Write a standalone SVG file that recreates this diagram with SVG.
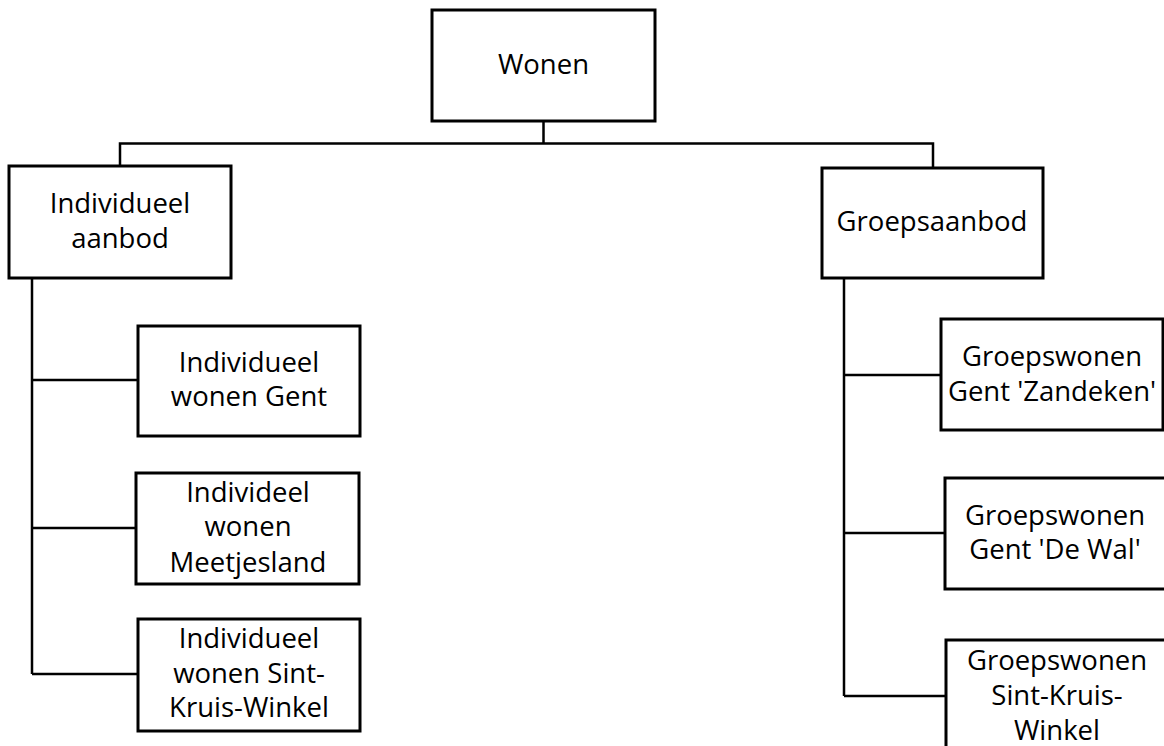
<svg xmlns="http://www.w3.org/2000/svg" width="1164" height="746" viewBox="0 0 1164 746">
<style>
.box{fill:#fff;stroke:#000;stroke-width:3}
.conn{fill:none;stroke:#000;stroke-width:2.5}
text{font-family:"Open Sans","Noto Sans",sans-serif;font-size:27.5px;fill:#000;text-anchor:middle}
</style>
<rect width="1164" height="746" fill="#fff"/>
<g id="connectors">
<path class="conn" d="M543.5 121V143.5M120 166V143.5H933V168"/>
<path class="conn" d="M32 278V674M32 380H138M32 528H136M32 674H138"/>
<path class="conn" d="M844 278V696M844 375H941M844 533H945M844 696H946"/>
</g>
<g id="n-wonen"><rect class="box" x="432" y="10" width="223" height="111"/><text x="543.5" y="74">Wonen</text></g>
<g id="n-individueel"><rect class="box" x="9" y="166" width="222" height="112"/><text x="120" y="213">Individueel</text><text x="120" y="248">aanbod</text></g>
<g id="n-groeps"><rect class="box" x="822" y="168" width="221" height="110"/><text x="932" y="231">Groepsaanbod</text></g>
<g id="n-ind-gent"><rect class="box" x="138" y="326" width="222" height="110"/><text x="249" y="372">Individueel</text><text x="249" y="406">wonen Gent</text></g>
<g id="n-ind-meet"><rect class="box" x="136" y="473" width="223" height="111"/><text x="248" y="502">Individeel</text><text x="248" y="536">wonen</text><text x="248" y="572">Meetjesland</text></g>
<g id="n-ind-skw"><rect class="box" x="138" y="619" width="222" height="112"/><text x="249" y="648">Individueel</text><text x="249" y="683">wonen Sint-</text><text x="249" y="717">Kruis-Winkel</text></g>
<g id="n-gr-zand"><rect class="box" x="941" y="319" width="222" height="111"/><text x="1052" y="366">Groepswonen</text><text x="1052" y="401">Gent 'Zandeken'</text></g>
<g id="n-gr-wal"><rect class="box" x="945" y="478" width="222" height="111"/><text x="1055" y="525">Groepswonen</text><text x="1055" y="559">Gent 'De Wal'</text></g>
<g id="n-gr-skw"><rect class="box" x="946" y="640" width="222" height="112"/><text x="1057" y="670">Groepswonen</text><text x="1057" y="705">Sint-Kruis-</text><text x="1057" y="740">Winkel</text></g>
</svg>
